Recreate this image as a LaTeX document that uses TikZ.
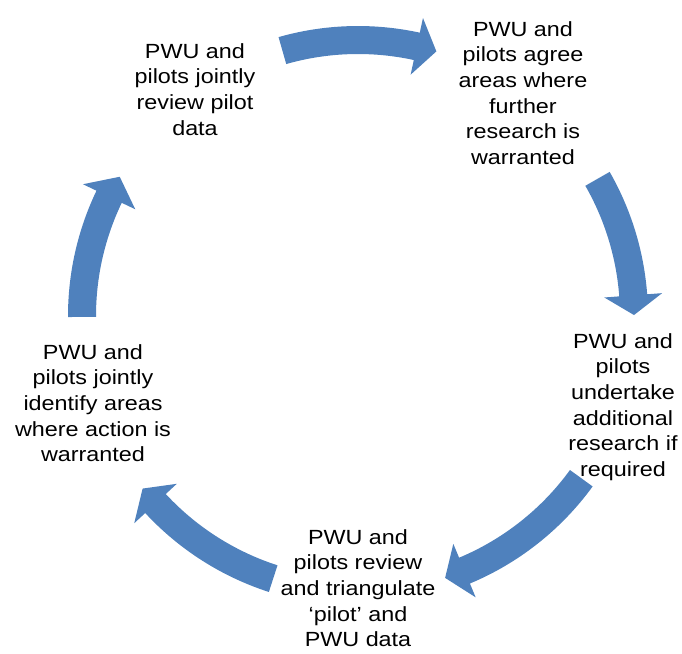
\documentclass[tikz,border=0pt]{standalone}
\usepackage{fontspec}
\setmainfont{Liberation Sans}[FakeStretch=1.14]
\definecolor{cycblue}{RGB}{79,129,189}
\tikzset{
  steptext/.style={anchor=north, align=center, inner sep=0pt, text=black,
    font=\fontsize{20.5}{25.7}\selectfont},
  cyclefill/.style={fill=cycblue, draw=none}
}
% tail angle, head-base angle, tip angle
\newcommand\cycarrow[3]{%
  \fill[cyclefill] (#1:290pt) arc[start angle=#1, end angle=#2, radius=290pt]
    -- (#2:305pt) -- (#3:276pt) -- (#2:247pt) -- (#2:262pt)
    arc[start angle=#2, end angle=#1, radius=262pt] -- cycle;}
\begin{document}
\begin{tikzpicture}[x=1pt,y=1pt]
\useasboundingbox (0,0) rectangle (682,-653);
\node[steptext] (a) at (195,-43) {PWU and\\pilots jointly\\review pilot\\data};
\node[steptext] (b) at (523,-21) {PWU and\\pilots agree\\areas where\\further\\research is\\warranted};
\node[steptext] (c) at (623,-333) {PWU and\\pilots\\undertake\\additional\\research if\\required};
\node[steptext] (d) at (358,-529) {PWU and\\pilots review\\and triangulate\\‘pilot’ and\\PWU data};
\node[steptext] (e) at (93,-344) {PWU and\\pilots jointly\\identify areas\\where action is\\warranted};
\begin{scope}[shift={(358,-316)}]
  \cycarrow{105.9}{77.7}{73.5}
  \cycarrow{29.8}{4.3}{0.2}
  \cycarrow{-36}{-67.3}{-71.6}
  \cycarrow{-107.9}{-137.2}{-141.3}
  \cycarrow{180.2}{154.4}{149.7}
\end{scope}
\end{tikzpicture}
\end{document}
